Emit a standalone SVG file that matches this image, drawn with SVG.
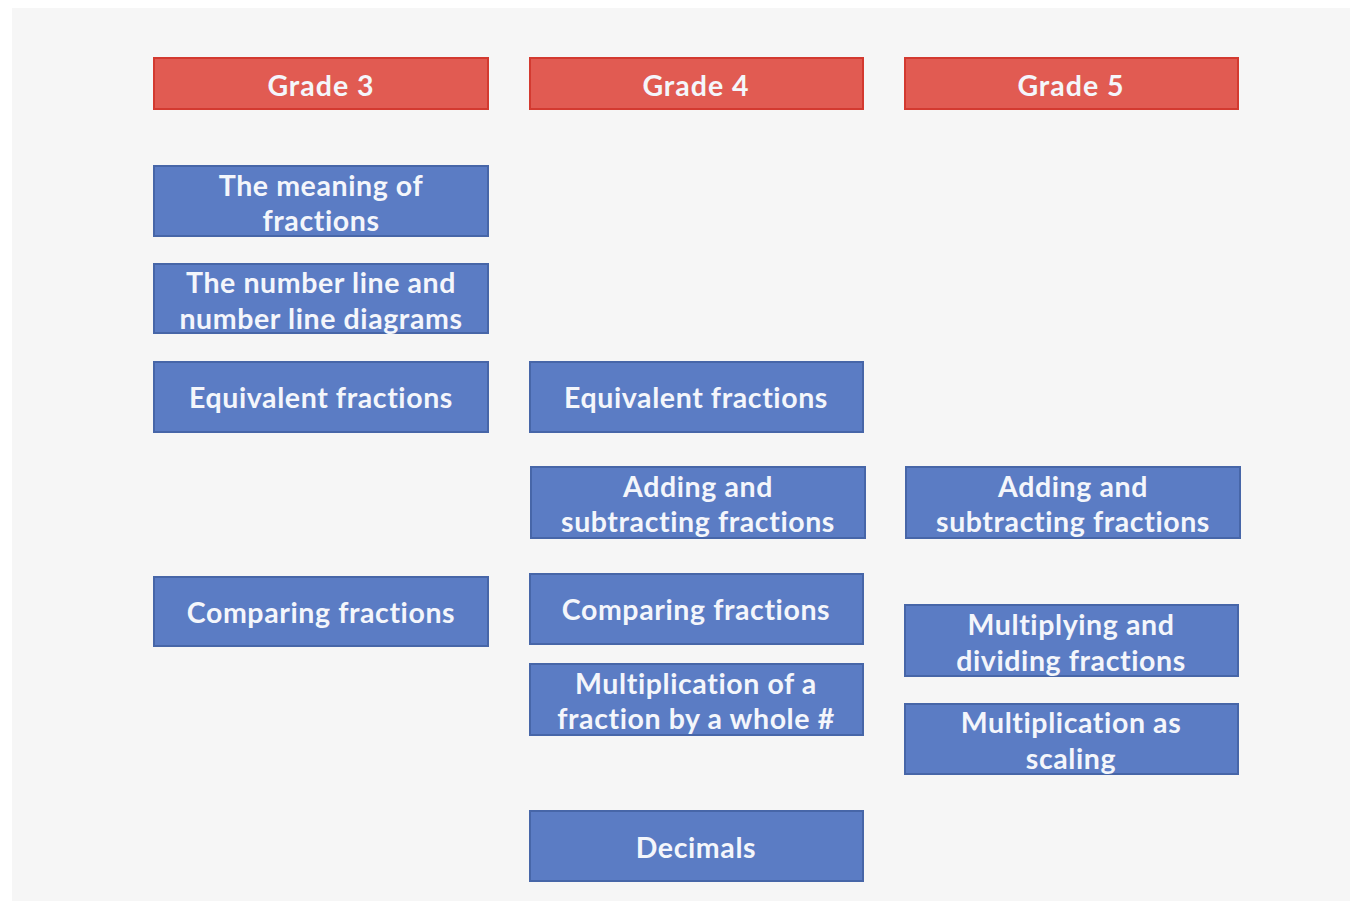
<svg xmlns="http://www.w3.org/2000/svg" width="1350" height="901" viewBox="0 0 1350 901">
<style>
.grade rect{fill:#e15b52;stroke:#d33a30;stroke-width:2}
.topic rect{fill:#5b7cc4;stroke:#4766a8;stroke-width:2}
text{font-family:Lato,"Open Sans","Liberation Sans",sans-serif;font-weight:700;fill:#f4f6fb;font-size:28.5px;letter-spacing:0.6px;text-anchor:middle}
.grade text{font-size:28.5px;letter-spacing:1px}
</style>
<rect x="0" y="0" width="1350" height="901" fill="#ffffff"/>
<rect x="12" y="8" width="1338" height="893" fill="#f6f6f6"/>
<g id="grade3" class="grade"><rect x="154" y="58" width="334" height="51"/><text x="321" y="96">Grade 3</text></g>
<g id="grade4" class="grade"><rect x="530" y="58" width="333" height="51"/><text x="696" y="96">Grade 4</text></g>
<g id="grade5" class="grade"><rect x="905" y="58" width="333" height="51"/><text x="1071" y="96">Grade 5</text></g>
<g id="g3-meaning" class="topic"><rect x="154" y="166" width="334" height="70"/><text x="321" y="196">The meaning of</text><text x="321" y="231">fractions</text></g>
<g id="g3-numberline" class="topic"><rect x="154" y="264" width="334" height="69"/><text x="321" y="293">The number line and</text><text x="321" y="329">number line diagrams</text></g>
<g id="g3-equivalent" class="topic"><rect x="154" y="362" width="334" height="70"/><text x="321" y="408">Equivalent fractions</text></g>
<g id="g3-comparing" class="topic"><rect x="154" y="577" width="334" height="69"/><text x="321" y="623">Comparing fractions</text></g>
<g id="g4-equivalent" class="topic"><rect x="530" y="362" width="333" height="70"/><text x="696" y="408">Equivalent fractions</text></g>
<g id="g4-adding" class="topic"><rect x="531" y="467" width="334" height="71"/><text x="698" y="497">Adding and</text><text x="698" y="532">subtracting fractions</text></g>
<g id="g4-comparing" class="topic"><rect x="530" y="574" width="333" height="70"/><text x="696" y="620">Comparing fractions</text></g>
<g id="g4-multiplication" class="topic"><rect x="530" y="664" width="333" height="71"/><text x="696" y="694">Multiplication of a</text><text x="696" y="729">fraction by a whole #</text></g>
<g id="g4-decimals" class="topic"><rect x="530" y="811" width="333" height="70"/><text x="696" y="858">Decimals</text></g>
<g id="g5-adding" class="topic"><rect x="906" y="467" width="334" height="71"/><text x="1073" y="497">Adding and</text><text x="1073" y="532">subtracting fractions</text></g>
<g id="g5-multiplying" class="topic"><rect x="905" y="605" width="333" height="71"/><text x="1071" y="635">Multiplying and</text><text x="1071" y="671">dividing fractions</text></g>
<g id="g5-scaling" class="topic"><rect x="905" y="704" width="333" height="70"/><text x="1071" y="733">Multiplication as</text><text x="1071" y="769">scaling</text></g>
<g id="connectors"></g>
</svg>
